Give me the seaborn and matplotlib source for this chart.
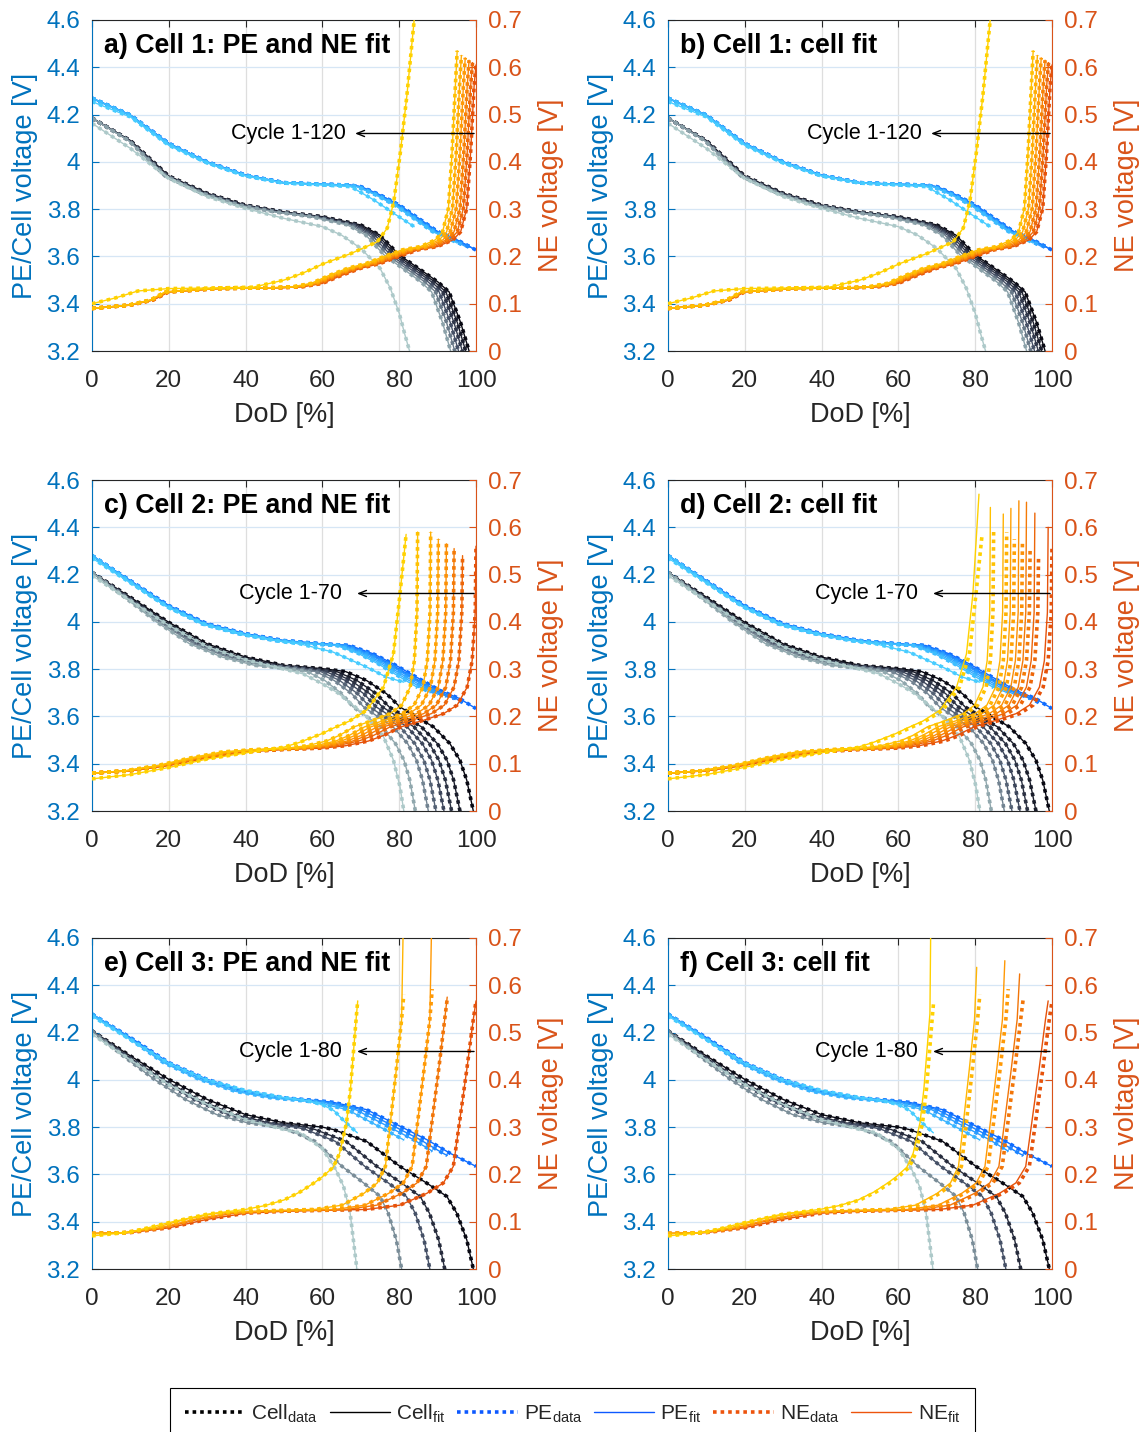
import numpy as np
import matplotlib
matplotlib.use("Agg")
import matplotlib.pyplot as plt
from matplotlib.colors import LinearSegmentedColormap
from matplotlib.lines import Line2D
import seaborn as sns

# ---------------- tick / text content ----------------
dod_ticks = [0, 20, 40, 60, 80, 100]
volt_ticks = [3.2, 3.4, 3.6, 3.8, 4.0, 4.2, 4.4, 4.6]
volt_tick_labels = ["3.2", "3.4", "3.6", "3.8", "4", "4.2", "4.4", "4.6"]
ne_ticks = [0, 0.1, 0.2, 0.3, 0.4, 0.5, 0.6, 0.7]
ne_tick_labels = ["0", "0.1", "0.2", "0.3", "0.4", "0.5", "0.6", "0.7"]
panel_titles = ["a) Cell 1: PE and NE fit", "b) Cell 1: cell fit",
                "c) Cell 2: PE and NE fit", "d) Cell 2: cell fit",
                "e) Cell 3: PE and NE fit", "f) Cell 3: cell fit"]
cycle_labels = ["Cycle 1-120", "Cycle 1-120", "Cycle 1-70", "Cycle 1-70",
                "Cycle 1-80", "Cycle 1-80"]
legend_labels = [r"Cell$_{\mathrm{data}}$", r"Cell$_{\mathrm{fit}}$",
                 r"PE$_{\mathrm{data}}$", r"PE$_{\mathrm{fit}}$",
                 r"NE$_{\mathrm{data}}$", r"NE$_{\mathrm{fit}}$"]

# ---------------- Cell 1 (cycle 1-120) ----------------
# first-cycle curves (DoD %, voltage)
c1_cell_x = [0, 10, 20, 30, 40, 50, 60, 70, 75, 80, 85, 90, 93, 96, 98.2, 100]
c1_cell_v = [4.185, 4.09, 3.94, 3.867, 3.817, 3.788, 3.768, 3.733, 3.69, 3.606,
             3.55, 3.493, 3.45, 3.32, 3.2, 3.05]
c1_pe_x = [0, 10, 20, 30, 40, 50, 60, 67, 70, 75, 80, 85, 90, 95, 100]
c1_pe_v = [4.269, 4.198, 4.078, 4.0, 3.944, 3.912, 3.905, 3.902, 3.895, 3.86,
           3.817, 3.761, 3.705, 3.67, 3.627]
c1_ne_x = [0, 10, 16, 20, 33, 50, 55, 60, 65, 70, 75, 80, 85, 90, 94, 96, 97.6,
           98.6, 99.5, 100]
c1_ne_v = [0.09, 0.097, 0.108, 0.125, 0.132, 0.134, 0.136, 0.143, 0.16, 0.175,
           0.185, 0.2, 0.214, 0.221, 0.235, 0.252, 0.302, 0.42, 0.56, 0.605]
# later cycles: end-of-discharge DoD, PE stretch, NE end voltage
c1_caps = [100, 99.1, 98.2, 97.2, 96.2, 95.1]
c1_pe_scale = [1.0, 1.0, 0.995, 0.99, 0.99, 0.985]
c1_ne_top = [0.605, 0.61, 0.615, 0.62, 0.625, 0.635]
# last cycle (cycle 120)
c1_last_cell_x = [0, 10, 20, 30, 40, 50, 60, 65, 70, 75, 77.7, 80, 81.5, 82.7, 83.3]
c1_last_cell_v = [4.163, 4.057, 3.93, 3.853, 3.803, 3.761, 3.726, 3.69, 3.634,
                  3.55, 3.465, 3.36, 3.268, 3.2, 3.1]
c1_last_pe_x = [0, 10, 20, 30, 40, 50, 60, 67.4, 73.4, 78.6, 83.9]
c1_last_pe_v = [4.255, 4.19, 4.07, 3.995, 3.94, 3.91, 3.902, 3.895, 3.839, 3.782, 3.726]
c1_last_ne_x = [0, 6, 12, 20, 30, 42, 50, 55, 60.4, 67.4, 74.3, 76.9, 78.6, 80.3,
                82, 83.9, 84.4]
c1_last_ne_v = [0.1, 0.112, 0.127, 0.132, 0.133, 0.135, 0.15, 0.165, 0.185,
                0.206, 0.231, 0.26, 0.316, 0.42, 0.54, 0.7, 0.8]

# ---------------- Cell 2 (cycle 1-70) ----------------
c2_cell_x = [0, 10, 20, 30, 40, 50, 60, 66, 71.5, 76.7, 80.2, 84.5, 88.9, 93.2,
             95.8, 97.6, 99.3, 100.5]
c2_cell_v = [4.209, 4.104, 3.998, 3.907, 3.851, 3.816, 3.802, 3.79, 3.752, 3.696,
             3.64, 3.598, 3.556, 3.485, 3.415, 3.33, 3.2, 3.05]
c2_pe_x = [0, 10, 20, 30, 40, 50, 60, 67.1, 73.2, 78.5, 84.5, 90.6, 95.8, 100]
c2_pe_v = [4.28, 4.174, 4.069, 3.992, 3.95, 3.921, 3.907, 3.9, 3.865, 3.822,
           3.766, 3.71, 3.675, 3.633]
c2_ne_x = [0, 10, 20, 30, 40, 50, 60, 66, 72, 76, 80.5, 86.4, 91.6, 95.1, 97.7,
           99, 99.8, 100]
c2_ne_v = [0.08, 0.085, 0.096, 0.112, 0.125, 0.13, 0.133, 0.138, 0.148, 0.16,
           0.178, 0.192, 0.206, 0.224, 0.262, 0.318, 0.42, 0.56]
c2_caps = [100, 96.5, 94.3, 92.3, 90.2, 88.2, 84.8]
c2_pe_scale = [1.0, 0.99, 0.985, 0.98, 0.97, 0.96, 0.95]
c2_ne_top = [0.56, 0.54, 0.555, 0.565, 0.575, 0.59, 0.59]
c2_ne_fit_top_cellfit = [0.6, 0.63, 0.653, 0.656, 0.64, 0.628, 0.642]
c2_last_cell_x = [0, 10, 20, 30, 40, 50, 55, 60, 64, 71.5, 75.9, 78.5, 80.2, 81.2, 81.8]
c2_last_cell_v = [4.196, 4.09, 3.985, 3.895, 3.84, 3.8, 3.78, 3.738, 3.7, 3.6,
                  3.515, 3.415, 3.303, 3.2, 3.1]
c2_last_pe_x = [0, 10, 20, 30, 40, 50, 54.2, 62.8, 71.5, 76.7, 81.2]
c2_last_pe_v = [4.27, 4.165, 4.06, 3.985, 3.945, 3.915, 3.907, 3.872, 3.809, 3.766, 3.745]
c2_last_ne_x = [0, 10, 20, 30, 40, 50, 54, 60, 62.8, 67, 71.5, 75.9, 78.5, 80.2, 81.8]
c2_last_ne_v = [0.068, 0.077, 0.092, 0.11, 0.123, 0.135, 0.145, 0.164, 0.175,
                0.19, 0.213, 0.262, 0.332, 0.459, 0.585]
c2_last_ne_fit_top_cellfit = 0.67

# ---------------- Cell 3 (cycle 1-80) ----------------
c3_cell_x = [0, 10, 20, 30, 40, 50, 60, 62.8, 71.5, 80.2, 87.2, 92.4, 95, 97.6,
             99.3, 100.5]
c3_cell_v = [4.207, 4.101, 4.002, 3.917, 3.853, 3.818, 3.80, 3.79, 3.74, 3.634,
             3.563, 3.507, 3.436, 3.323, 3.2, 3.05]
c3_pe_x = [0, 10, 20, 30, 40, 50, 60, 62.8, 71.5, 80.2, 87.2, 93.2, 100]
c3_pe_v = [4.278, 4.179, 4.073, 4.002, 3.952, 3.924, 3.91, 3.905, 3.874, 3.804,
           3.747, 3.69, 3.634]
c3_ne_x = [0, 10, 20, 30, 40, 50, 60, 71.5, 80.2, 87.2, 91.5, 94.1, 95.8, 97.6,
           99.3, 100]
c3_ne_v = [0.075, 0.077, 0.087, 0.105, 0.118, 0.122, 0.124, 0.126, 0.135, 0.16,
           0.182, 0.217, 0.316, 0.422, 0.528, 0.567]
c3_caps = [100, 92.5, 88.6, 81.2]
c3_pe_scale = [1.0, 0.98, 0.96, 0.93]
c3_ne_top = [0.567, 0.571, 0.592, 0.58]
c3_ne_fit_top_pene = [0.567, 0.575, 0.8, 0.8]
c3_ne_fit_top_cellfit = [0.567, 0.624, 0.652, 0.638]
c3_last_cell_x = [0, 10, 20, 30, 40, 50, 54.2, 60, 63.5, 65.5, 67.2, 68.9, 69.5]
c3_last_cell_v = [4.193, 4.085, 3.98, 3.896, 3.832, 3.79, 3.776, 3.71, 3.62,
                  3.55, 3.44, 3.21, 3.1]
c3_last_pe_x = [0, 10, 20, 30, 40, 50, 56, 60, 63, 66, 69.1]
c3_last_pe_v = [4.27, 4.17, 4.07, 4.0, 3.955, 3.925, 3.912, 3.895, 3.87, 3.82, 3.776]
c3_last_ne_x = [0, 10, 20, 30, 40, 45, 50, 54.2, 58, 60, 62.8, 64.5, 66.3, 67.3,
                68, 68.9, 69.2]
c3_last_ne_v = [0.07, 0.078, 0.098, 0.116, 0.126, 0.134, 0.146, 0.163, 0.183,
                0.195, 0.215, 0.245, 0.31, 0.38, 0.45, 0.54, 0.567]
c3_last_ne_fit_top_cellfit = 0.8

CELLS = [
    dict(cell_x=c1_cell_x, cell_v=c1_cell_v, pe_x=c1_pe_x, pe_v=c1_pe_v,
         ne_x=c1_ne_x, ne_v=c1_ne_v, caps=c1_caps, pe_scale=c1_pe_scale,
         ne_top=c1_ne_top,
         last=(c1_last_cell_x, c1_last_cell_v, c1_last_pe_x, c1_last_pe_v,
               c1_last_ne_x, c1_last_ne_v)),
    dict(cell_x=c2_cell_x, cell_v=c2_cell_v, pe_x=c2_pe_x, pe_v=c2_pe_v,
         ne_x=c2_ne_x, ne_v=c2_ne_v, caps=c2_caps, pe_scale=c2_pe_scale,
         ne_top=c2_ne_top,
         last=(c2_last_cell_x, c2_last_cell_v, c2_last_pe_x, c2_last_pe_v,
               c2_last_ne_x, c2_last_ne_v)),
    dict(cell_x=c3_cell_x, cell_v=c3_cell_v, pe_x=c3_pe_x, pe_v=c3_pe_v,
         ne_x=c3_ne_x, ne_v=c3_ne_v, caps=c3_caps, pe_scale=c3_pe_scale,
         ne_top=c3_ne_top,
         last=(c3_last_cell_x, c3_last_cell_v, c3_last_pe_x, c3_last_pe_v,
               c3_last_ne_x, c3_last_ne_v)),
]

# fit NE end voltages per panel (None -> same as data), and fit NE stretch
PANEL_FIT = [
    dict(cell=0, top=None, last_top=None, ne_stretch=1.0),
    dict(cell=0, top=None, last_top=None, ne_stretch=1.0),
    dict(cell=1, top=None, last_top=None, ne_stretch=1.0),
    dict(cell=1, top=c2_ne_fit_top_cellfit, last_top=c2_last_ne_fit_top_cellfit, ne_stretch=0.99),
    dict(cell=2, top=c3_ne_fit_top_pene, last_top=None, ne_stretch=1.0),
    dict(cell=2, top=c3_ne_fit_top_cellfit, last_top=c3_last_ne_fit_top_cellfit, ne_stretch=0.99),
]
arrow_tip = [68.5, 68.5, 69.0, 69.0, 69.0, 69.0]
text_right = [66.0, 66.0, 65.0, 65.0, 65.0, 65.0]

# ---------------- style ----------------
sns.set_style("white")
plt.rcParams["font.family"] = ["Liberation Sans", "DejaVu Sans"]
plt.rcParams["mathtext.fontset"] = "custom"
plt.rcParams["mathtext.rm"] = "Liberation Sans"
plt.rcParams["mathtext.it"] = "Liberation Sans:italic"

BLUE = "#0072BD"
ORANGE = "#D95319"
DARK = "#262626"
cmap_cell = LinearSegmentedColormap.from_list("cellc", [(0.03, 0.03, 0.07), (0.27, 0.31, 0.40), (0.68, 0.79, 0.79)])
cmap_pe = LinearSegmentedColormap.from_list("pec", [(0.05, 0.42, 1.0), (0.28, 0.80, 1.0)])
cmap_ne = LinearSegmentedColormap.from_list("nec", [(0.90, 0.32, 0.04), (1.0, 0.60, 0.02), (1.0, 0.82, 0.0)])

DATA_KW = dict(lw=2.6, linestyle=(0, (1, 1.1)))
FIT_KW = dict(lw=1.0, linestyle="-")

TICK_FS = 17.5
LABEL_FS = 19.5
TITLE_FS = 19.3


def truncate(x, y, xmax):
    x = np.asarray(x, float)
    y = np.asarray(y, float)
    keep = x <= xmax
    xs, ys = list(x[keep]), list(y[keep])
    if keep.sum() < len(x) and xs[-1] < xmax:
        xs.append(xmax)
        ys.append(float(np.interp(xmax, x, y)))
    return np.array(xs), np.array(ys)


def line(ax, x, y, color, kw):
    sns.lineplot(x=np.asarray(x, float), y=np.asarray(y, float), ax=ax,
                 color=color, sort=False, estimator=None, legend=False, **kw)


fig = plt.figure(figsize=(11.48, 14.32), dpi=100)
lefts = [92 / 1148, 668 / 1148]
bottoms = [1 - 351 / 1432, 1 - 811 / 1432, 1 - 1269 / 1432]
W, H = 384 / 1148, 331 / 1432

for p in range(6):
    row, col = divmod(p, 2)
    ax = fig.add_axes([lefts[col], bottoms[row], W, H])
    ax2 = ax.twinx()
    pf = PANEL_FIT[p]
    c = CELLS[pf["cell"]]
    n = len(c["caps"]) + 1

    for i in range(n):
        t = i / (n - 1)
        col_c, col_p, col_n = cmap_cell(t), cmap_pe(t), cmap_ne(t)
        if i < n - 1:
            s = c["caps"][i] / 100.0
            cx = np.array(c["cell_x"]) * s
            cv = np.array(c["cell_v"])
            px, pv = truncate(np.array(c["pe_x"]) * c["pe_scale"][i], c["pe_v"], c["caps"][i])
            nx = np.array(c["ne_x"]) * s
            nv = np.array(c["ne_v"], float)
            nv[-1] = c["ne_top"][i]
            nv_fit = nv.copy()
            if pf["top"] is not None:
                nv_fit[-1] = pf["top"][i]
            nx_fit = nx * pf["ne_stretch"]
        else:
            cx, cv, px, pv, nx, nv = [np.asarray(a, float) for a in c["last"]]
            nv_fit = nv.copy()
            if pf["last_top"] is not None:
                nv_fit[-1] = pf["last_top"]
            nx_fit = nx * pf["ne_stretch"]
        line(ax, cx, cv, col_c, DATA_KW)
        line(ax, cx, cv, col_c, FIT_KW)
        line(ax, px, pv, col_p, DATA_KW)
        line(ax, px, pv, col_p, FIT_KW)
        line(ax2, nx, nv, col_n, DATA_KW)
        line(ax2, nx_fit, nv_fit, col_n, FIT_KW)

    ax.set_xlim(0, 100)
    ax.set_ylim(3.2, 4.6)
    ax2.set_ylim(0, 0.7)
    ax.set_xticks(dod_ticks)
    ax.set_xticklabels([str(v) for v in dod_ticks], fontsize=TICK_FS, color=DARK)
    ax.set_yticks(volt_ticks)
    ax.set_yticklabels(volt_tick_labels, fontsize=TICK_FS, color=BLUE)
    ax2.set_yticks(ne_ticks)
    ax2.set_yticklabels(ne_tick_labels, fontsize=TICK_FS, color=ORANGE)

    ax.set_axisbelow(True)
    ax.grid(True, axis="x", color="#dedede", lw=0.9)
    ax.grid(True, axis="y", color="#d6e6f5", lw=0.9)

    ax.tick_params(axis="x", direction="in", top=True, length=5, width=0.8,
                   color=DARK, pad=14)
    ax.tick_params(axis="y", direction="in", left=True, right=False, length=5,
                   width=0.8, color=BLUE, pad=8.5)
    ax2.tick_params(axis="y", direction="in", right=True, length=5, width=0.8,
                    color=ORANGE, pad=8.5)

    for sp in ["top", "bottom"]:
        ax.spines[sp].set_color(DARK)
        ax.spines[sp].set_linewidth(0.8)
    ax.spines["left"].set_color(BLUE)
    ax.spines["left"].set_linewidth(0.8)
    ax.spines["right"].set_visible(False)
    for sp in ["top", "bottom", "left"]:
        ax2.spines[sp].set_visible(False)
    ax2.spines["right"].set_color(ORANGE)
    ax2.spines["right"].set_linewidth(0.8)

    ax.set_xlabel("DoD [%]", fontsize=LABEL_FS, color=DARK)
    ax.xaxis.label.set_va("center")
    ax.xaxis.set_label_coords(0.5, -0.193)
    ax.set_ylabel("PE/Cell voltage [V]", fontsize=LABEL_FS, color=BLUE)
    ax.yaxis.label.set_va("center")
    ax.yaxis.set_label_coords(-0.174, 0.5)
    ax2.set_ylabel("NE voltage [V]", fontsize=LABEL_FS, color=ORANGE, rotation=90)
    ax2.yaxis.label.set_va("center")
    ax2.yaxis.set_label_coords(1.196, 0.5)

    ax2.text(0.031, 0.922, panel_titles[p], transform=ax2.transAxes,
             fontsize=TITLE_FS, fontweight="bold", ha="left", va="center", color="black")
    y_arrow = 0.46
    ax2.annotate("", xy=(arrow_tip[p], y_arrow), xytext=(99.5, y_arrow),
                 arrowprops=dict(arrowstyle="->,head_length=0.55,head_width=0.22",
                                 color="black", lw=1.0, shrinkA=0, shrinkB=0))
    ax2.text(text_right[p], y_arrow, cycle_labels[p], ha="right", va="center",
             fontsize=15.5, color="black")

handles = [
    Line2D([], [], color="black", **DATA_KW),
    Line2D([], [], color="black", **FIT_KW),
    Line2D([], [], color=(0.05, 0.35, 1.0), **DATA_KW),
    Line2D([], [], color=(0.05, 0.35, 1.0), **FIT_KW),
    Line2D([], [], color=(0.93, 0.33, 0.05), **DATA_KW),
    Line2D([], [], color=(0.93, 0.33, 0.05), **FIT_KW),
]
leg = fig.legend(handles, legend_labels, loc="upper center",
                 bbox_to_anchor=(0.4987, 1 - 1388 / 1432), ncol=6, frameon=True,
                 fancybox=False, edgecolor="black", fontsize=15,
                 handlelength=2.9, columnspacing=0.55, handletextpad=0.3,
                 borderpad=0.7, borderaxespad=0.0, framealpha=1.0)
leg.get_frame().set_linewidth(0.8)

fig.savefig("out.png", dpi=100)
